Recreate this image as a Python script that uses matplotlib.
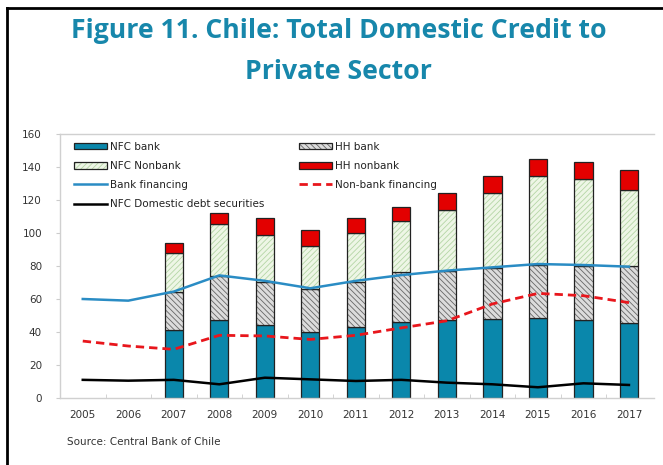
import matplotlib.pyplot as plt
from matplotlib.patches import Patch
from matplotlib.lines import Line2D
from matplotlib.legend_handler import HandlerTuple
import numpy as np

plt.rcParams['hatch.linewidth'] = 0.6

years = ['2005', '2006', '2007', '2008', '2009', '2010', '2011',
         '2012', '2013', '2014', '2015', '2016', '2017']

# stacked components (bars only from 2007)
nfc_bank = [None, None, 41.2, 47.3, 44.2, 40.2, 43.2, 46.3, 47.3, 47.7, 48.7, 47.3, 45.6]
hh_bank = [None, None, 23.2, 26.7, 26.3, 25.6, 27.3, 30.3, 29.7, 30.9, 31.9, 32.7, 34.4]
nfc_nonbank = [None, None, 23.6, 31.5, 28.3, 26.2, 29.5, 30.7, 36.7, 45.8, 54.1, 52.7, 46.0]
hh_nonbank = [None, None, 6.0, 6.5, 10.2, 9.8, 9.0, 8.5, 10.7, 10.1, 10.1, 10.5, 12.2]

bank_fin = [60, 59, 64.5, 74.3, 71, 66.5, 71, 74.5, 77.2, 79.2, 81.2, 80.6, 79.6]
nonbank_fin = [34.5, 31.5, 29.5, 38, 37.6, 35.5, 38, 42.5, 46.8, 57, 63.4, 62, 57.8]
nfc_debt = [11, 10.5, 11, 8.3, 12.3, 11.3, 10.3, 11, 9.3, 8.3, 6.5, 8.9, 7.9]

blue = '#0a87ab'
gray_fill = '#dcdcdc'
green_fill = '#eef6e6'
red = '#e30000'
gray_hatch = '#666666'
green_hatch = '#b5d6a6'

fig = plt.figure(figsize=(6.63, 4.65), dpi=100)

# outer frame lines (top and left)
fig.add_artist(Line2D([0.0105, 1.0], [0.983, 0.983], color='black', lw=2))
fig.add_artist(Line2D([0.0105, 0.0105], [0.0, 0.983], color='black', lw=2))

fig.text(0.511, 0.933, 'Figure 11. Chile: Total Domestic Credit to', ha='center', va='center',
         fontsize=19.2, fontweight='bold', family='Open Sans', color='#1787ab')
fig.text(0.511, 0.845, 'Private Sector', ha='center', va='center',
         fontsize=19.2, fontweight='bold', family='Open Sans', color='#1787ab')

ax = fig.add_axes([0.0905, 0.1441, 0.8959, 0.5677])

idx = [i for i, v in enumerate(nfc_bank) if v is not None]
b1 = np.array([nfc_bank[i] for i in idx])
b2 = np.array([hh_bank[i] for i in idx])
b3 = np.array([nfc_nonbank[i] for i in idx])
b4 = np.array([hh_nonbank[i] for i in idx])
w = 0.40
ec = '#222222'

ax.bar(idx, b1, w, color=blue, edgecolor=ec, lw=0.9, zorder=2)
ax.bar(idx, b2, w, bottom=b1, color=gray_fill, edgecolor=gray_hatch, hatch='\\\\\\\\\\\\', lw=0, zorder=2)
ax.bar(idx, b2, w, bottom=b1, fill=False, edgecolor=ec, lw=0.9, zorder=2)
ax.bar(idx, b3, w, bottom=b1 + b2, color=green_fill, edgecolor=green_hatch, hatch='//////', lw=0, zorder=2)
ax.bar(idx, b3, w, bottom=b1 + b2, fill=False, edgecolor=ec, lw=0.9, zorder=2)
ax.bar(idx, b4, w, bottom=b1 + b2 + b3, color=red, edgecolor=ec, lw=0.9, zorder=2)

x = np.arange(len(years))
ax.plot(x, bank_fin, color='#2a8cc4', lw=1.8, zorder=3)
ax.plot(x, nonbank_fin, color='#e8161c', lw=2.0, ls=(0, (3, 1.8)), zorder=3)
ax.plot(x, nfc_debt, color='black', lw=1.8, zorder=3)

ax.set_xlim(-0.5, 12.55)
ax.set_ylim(0, 160)
ax.set_yticks(range(0, 161, 20))
ax.set_xticks(x)
ax.set_xticklabels(years)
ax.set_xticks(np.arange(0.5, 12, 1), minor=True)
ax.tick_params(axis='x', which='major', length=0, pad=9)
ax.tick_params(axis='x', which='minor', direction='in', length=3, color='#cccccc')
ax.tick_params(axis='y', length=3, color='#cccccc', pad=10)
ax.tick_params(labelsize=7.5, labelcolor='#333333')
for s in ['top', 'left', 'bottom']:
    ax.spines[s].set_color('#d0d0d0')
    ax.spines[s].set_linewidth(1.0)
ax.spines['right'].set_visible(False)

handles = [
    Patch(facecolor=blue, edgecolor=ec, lw=0.9),
    (Patch(facecolor=green_fill, edgecolor=green_hatch, hatch='//////', lw=0),
     Patch(fill=False, edgecolor=ec, lw=0.9)),
    Line2D([], [], color='#2a8cc4', lw=1.8),
    Line2D([], [], color='black', lw=1.8),
    (Patch(facecolor=gray_fill, edgecolor=gray_hatch, hatch='\\\\\\\\\\\\', lw=0),
     Patch(fill=False, edgecolor=ec, lw=0.9)),
    Patch(facecolor=red, edgecolor=ec, lw=0.9),
    Line2D([], [], color='#e8161c', lw=2.0, ls=(0, (3, 1.8))),
]
labels = ['NFC bank', 'NFC Nonbank', 'Bank financing', 'NFC Domestic debt securities',
          'HH bank', 'HH nonbank', 'Non-bank financing']
ax.legend(handles, labels, loc='upper left', bbox_to_anchor=(0.01, 1.0), ncol=2,
          frameon=False, fontsize=7.5, handlelength=3.2, handleheight=0.6,
          handletextpad=0.3, columnspacing=3.3, labelspacing=0.87,
          borderaxespad=0.35, handler_map={tuple: HandlerTuple(ndivide=1)},
          labelcolor='#222222')

fig.text(0.101, 0.043, 'Source: Central Bank of Chile', fontsize=7.5, color='#333333')

fig.savefig('out.png', dpi=100)
